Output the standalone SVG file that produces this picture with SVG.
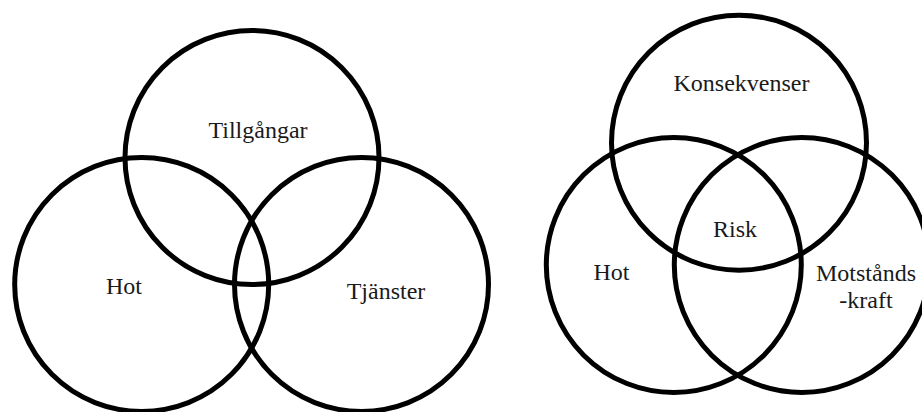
<svg xmlns="http://www.w3.org/2000/svg" width="922" height="412" viewBox="0 0 922 412">
<style>
.c{fill:none;stroke:#000;stroke-width:5}
text{font-family:'Liberation Serif','DejaVu Serif',serif;font-size:24px;fill:#1a1a1a;text-anchor:middle}
</style>
<rect width="922" height="412" fill="#fff"/>
<g id="left-venn">
<g id="tillgangar"><circle class="c" cx="252" cy="157.5" r="127"/><text x="258" y="138" font-family="Liberation Serif, serif">Tillgångar</text></g>
<g id="hot-left"><circle class="c" cx="141.7" cy="284.5" r="127"/><text x="124" y="294" font-family="Liberation Serif, serif">Hot</text></g>
<g id="tjanster"><circle class="c" cx="361.5" cy="284.5" r="127"/><text x="386" y="299" font-family="Liberation Serif, serif">Tjänster</text></g>
</g>
<g id="right-venn">
<g id="konsekvenser"><circle class="c" cx="739" cy="142.7" r="127.5"/><text x="741.5" y="91" font-family="Liberation Serif, serif">Konsekvenser</text></g>
<g id="hot-right"><circle class="c" cx="673.8" cy="265" r="127.5"/><text x="611.5" y="280" font-family="Liberation Serif, serif">Hot</text></g>
<g id="motstandskraft"><circle class="c" cx="801.8" cy="265" r="127.5"/><text x="866" y="281" font-family="Liberation Serif, serif">Motstånds</text><text x="866" y="308" font-family="Liberation Serif, serif">-kraft</text></g>
<g id="risk"><text x="735" y="237" font-family="Liberation Serif, serif">Risk</text></g>
</g>
</svg>
